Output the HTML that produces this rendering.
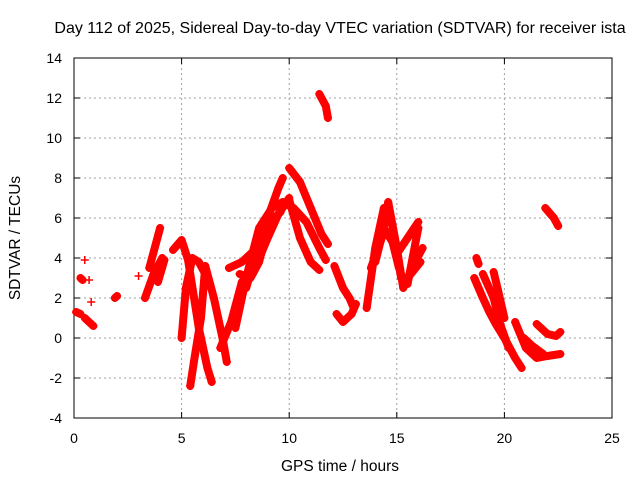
<!DOCTYPE html>
<html><head><meta charset="utf-8">
<style>body{margin:0;background:#fff}svg{display:block;font-family:"Liberation Sans",sans-serif}</style>
</head><body>
<svg id="c" width="640" height="480">
<text x="340" y="33" text-anchor="middle" font-size="16">Day 112 of 2025, Sidereal Day-to-day VTEC variation (SDTVAR) for receiver ista</text>
<text transform="translate(20,238) rotate(-90)" text-anchor="middle" font-size="15.5">SDTVAR / TECUs</text>
<text x="340" y="471" text-anchor="middle" font-size="15.5">GPS time / hours</text>
<g id="grid"></g><g id="marks"></g>
</svg>
<script>
const xTicks=[0,5,10,15,20,25];
const yTicks=[-4,-2,0,2,4,6,8,10,12,14];
const tracks=[
[[0.1,1.3],[0.3,1.2]],[[0.3,3.0],[0.4,2.9]],[[0.5,3.9]],[[0.7,2.9]],[[0.8,1.8]],[[0.5,1.0],[0.9,0.6]],
[[1.9,2.0],[2.0,2.1]],[[3.0,3.1]],
[[3.5,3.5],[4.0,5.5]],[[3.3,2.0],[3.7,3.2],[4.1,4.0]],[[3.9,2.8],[4.2,3.9]],
[[4.6,4.4],[5.0,4.9],[5.3,3.9],[5.8,0.5],[6.2,-1.5],[6.4,-2.2]],
[[5.4,-2.4],[5.6,-1],[5.9,1],[6.1,3.6],[6.5,2.0],[6.9,0],[7.1,-1.2]],
[[5.0,0],[5.2,2.5],[5.5,4.0],[5.8,3.8],[6.2,3.0]],
[[6.8,-0.5],[7.3,0.8],[7.8,2.8],[8.3,3.2],[9.0,5.0],[9.5,6.2],[10.0,7.0]],
[[7.2,3.5],[7.8,3.8],[8.5,4.5],[9.0,6.0],[9.5,7.5],[9.7,8.0]],
[[7.5,0.5],[8,3.0],[8.6,5.5],[9.2,6.5],[9.7,6.8],[10.2,6.5],[10.8,5.8],[11.4,4.5],[11.7,3.9]],
[[8.0,2.5],[8.4,4.0],[8.8,5.0],[9.3,6.0],[9.6,6.3]],
[[7.7,3.2],[8.2,3.0],[8.6,3.8],[9.0,5.5]],
[[10.0,8.5],[10.5,7.8],[11,6.5],[11.5,5.2],[11.8,4.7]],
[[10,6.9],[10.5,5.0],[11,3.8],[11.4,3.4]],
[[11.4,12.2],[11.7,11.6],[11.8,11.0]],
[[12.1,3.6],[12.5,2.5],[12.8,2.0],[13.0,1.5]],[[12.2,1.2],[12.5,0.8],[12.9,1.2],[13.1,1.7]],
[[13.6,1.5],[14.0,4.5],[14.4,6.5],[14.8,5.6],[15.2,3.0],[15.5,2.7],[16.0,5.5]],
[[13.8,3.5],[14.3,5.0],[14.6,6.8],[15,4.5],[15.3,2.5],[15.8,3.7],[16.2,4.5]],
[[14.0,3.8],[14.4,5.5],[14.8,4.8],[15.1,3.5]],
[[15.0,4.2],[15.5,5.0],[16.0,5.8]],[[15.5,3.0],[16.1,3.8]],
[[18.7,4.0],[18.8,3.7]],
[[18.6,3.0],[19.0,2.0],[19.3,1.3],[19.6,0.7],[20,0],[20.5,-1.0],[20.8,-1.5]],
[[19.0,3.2],[19.5,2.0],[19.8,0.7],[20.2,-0.5]],[[19.5,3.3],[19.7,2.4],[20,1.0]],
[[20.5,0.8],[21,-0.5],[21.5,-1.0],[22,-0.9],[22.6,-0.8]],[[20.9,0.0],[21.3,-0.4],[21.8,-0.8]],
[[21.5,0.7],[22,0.2],[22.4,0.1],[22.6,0.3]],[[21.9,6.5],[22.3,6.0],[22.5,5.6]]
];
const NS="http://www.w3.org/2000/svg";
const L=74,R=612,T=58,B=418;
const sx=h=>L+(h-0)/25*(R-L), sy=v=>B-(v+4)/18*(B-T);
function mk(t,a,p){const e=document.createElementNS(NS,t);for(const k in a)e.setAttribute(k,a[k]);p.appendChild(e);return e;}
const g=document.getElementById('grid'),m=document.getElementById('marks');
xTicks.forEach(t=>{const x=sx(t);
 if(t>0&&t<25){const l=mk('line',{x1:x,x2:x,y1:T,y2:B,stroke:'#a0a0a0','stroke-dasharray':'2,3'},g);}
 mk('line',{x1:x,x2:x,y1:B,y2:B-6,stroke:'#000'},g);mk('line',{x1:x,x2:x,y1:T,y2:T+6,stroke:'#000'},g);
 const tx=mk('text',{x:x,y:B+25,'text-anchor':'middle','font-size':14},g);tx.textContent=t;
 });
yTicks.forEach(t=>{const y=sy(t);
 if(t>-4&&t<14){const l=mk('line',{x1:L,x2:R,y1:y,y2:y,stroke:'#a0a0a0','stroke-dasharray':'2,3'},g);}
 mk('line',{x1:L,x2:L+6,y1:y,y2:y,stroke:'#000'},g);mk('line',{x1:R,x2:R-6,y1:y,y2:y,stroke:'#000'},g);
 const tx=mk('text',{x:L-12,y:y+5,'text-anchor':'end','font-size':14},g);tx.textContent=t;
 });
const fr=mk('rect',{x:L,y:T,width:R-L,height:B-T,fill:'none',stroke:'#000'},g);

tracks.forEach(tr=>{
 const pts=tr.map(p=>sx(p[0])+','+sy(p[1])).join(' ');
 const pl=mk('polyline',{points:pts,fill:'none',stroke:'#f00','stroke-width':8,'stroke-linecap':'round','stroke-linejoin':'round'},m);
 
 tr.forEach(p=>{const x=sx(p[0]),y=sy(p[1]);
  const pm=mk('path',{d:`M${x-4},${y}H${x+4}M${x},${y-4}V${y+4}`,stroke:'#f00','stroke-width':1.5},m);
  });
});
</script>
</body></html>
